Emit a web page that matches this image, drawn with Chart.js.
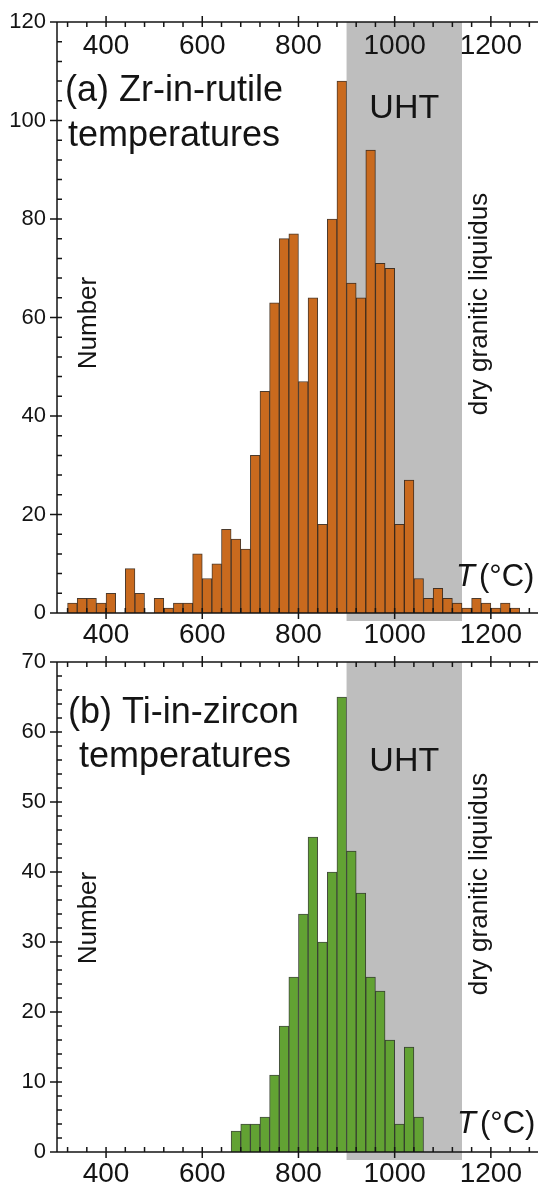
<!DOCTYPE html>
<html>
<head>
<meta charset="utf-8">
<script src="https://cdn.jsdelivr.net/npm/chart.js@4.4.1/dist/chart.umd.min.js"></script>
<style>
  html, body { margin: 0; padding: 0; background: #fff; }
  body { width: 538px; height: 1188px; position: relative; overflow: hidden; }
  canvas { position: absolute; left: 0; }
  #chartA { top: 0; }
  #chartB { top: 640px; }
</style>
</head>
<body>
<canvas id="chartA" width="538" height="660"></canvas>
<canvas id="chartB" width="538" height="548"></canvas>
<script>
// histogram bins are 20 °C wide, arrays hold the lower edge of each bin
const BIN_WIDTH = 20;

const rutileBins = [320, 340, 360, 380, 400, 420, 440, 460, 480, 500, 520, 540, 560, 580,
  600, 620, 640, 660, 680, 700, 720, 740, 760, 780, 800, 820, 840, 860, 880, 900, 920, 940,
  960, 980, 1000, 1020, 1040, 1060, 1080, 1100, 1120, 1140, 1160, 1180, 1200, 1220, 1240];
const rutileCounts = [2, 3, 3, 2, 4, 0, 9, 4, 0, 3, 1, 2, 2, 12,
  7, 10, 17, 15, 13, 32, 45, 63, 76, 77, 47, 64, 18, 80, 108, 67, 64, 94,
  71, 70, 18, 27, 7, 3, 5, 3, 2, 1, 3, 2, 1, 2, 1];

const zirconBins = [660, 680, 700, 720, 740, 760, 780, 800, 820, 840, 860, 880, 900, 920,
  940, 960, 980, 1000, 1020, 1040];
const zirconCounts = [3, 4, 4, 5, 11, 18, 25, 34, 45, 30, 40, 65, 43, 37,
  25, 23, 16, 4, 15, 5];

const xTickLabels = [400, 600, 800, 1000, 1200];
const rutileYTicks = [0, 20, 40, 60, 80, 100, 120];
const zirconYTicks = [0, 10, 20, 30, 40, 50, 60, 70];
const uhtRange = [900, 1140];   // UHT field up to the dry granitic liquidus

const FONT = '"Liberation Sans", Arial, sans-serif';
const INK = '#141414';

// frame, inner ticks, UHT band and the text labels of one panel
const panelPlugin = {
  id: 'panel',
  beforeDatasetsDraw(chart, args, o) {
    const { ctx, chartArea: a, scales: { x } } = chart;
    const x0 = x.getPixelForValue(o.band[0]);
    const x1 = x.getPixelForValue(o.band[1]);
    ctx.save();
    ctx.fillStyle = '#bebebe';
    ctx.fillRect(x0, a.top, x1 - x0, a.bottom - a.top + 8);
    ctx.restore();
  },
  afterDraw(chart, args, o) {
    const { ctx, chartArea: a, scales: { x, y } } = chart;
    ctx.save();
    ctx.strokeStyle = INK;
    ctx.lineWidth = 1.5;
    ctx.beginPath();
    ctx.moveTo(a.left, a.top); ctx.lineTo(a.left, a.bottom);
    ctx.moveTo(a.left - 5, a.top); ctx.lineTo(a.right, a.top);
    ctx.moveTo(a.left - (o.bottomOut ? 5 : 0), a.bottom); ctx.lineTo(a.right, a.bottom);

    for (let v = y.min; v <= y.max; v += o.yMinor) {
      const py = y.getPixelForValue(v);
      const major = v % o.yMajor === 0;
      ctx.moveTo(major ? a.left - 7 : a.left, py);
      ctx.lineTo(a.left + 5, py);
    }
    for (let v = Math.ceil(x.min / 40) * 40; v <= x.max; v += 40) {
      const px = x.getPixelForValue(v);
      const major = xTickLabels.includes(v);
      ctx.moveTo(px, a.bottom + (major ? 6 : 0));
      ctx.lineTo(px, a.bottom - 5);
      ctx.moveTo(px, a.top - (major ? 6 : 0));
      ctx.lineTo(px, a.top + 5);
    }
    ctx.stroke();

    ctx.fillStyle = INK;
    // tick labels repeated just inside the top border
    if (o.topLabels) {
      ctx.font = '28px ' + FONT;
      ctx.textAlign = 'center';
      ctx.textBaseline = 'alphabetic';
      xTickLabels.forEach(v => ctx.fillText(String(v), x.getPixelForValue(v), a.top + 32));
    }

    ctx.textAlign = 'left';
    ctx.font = '36px ' + FONT;
    ctx.fillText(o.title[0], o.titlePos[0][0], o.titlePos[0][1]);
    ctx.fillText(o.title[1], o.titlePos[1][0], o.titlePos[1][1]);

    ctx.textAlign = 'center';
    ctx.font = '34px ' + FONT;
    ctx.fillText('UHT', (x.getPixelForValue(o.band[0]) + x.getPixelForValue(o.band[1])) / 2, o.uhtY);

    ctx.textAlign = 'left';
    ctx.font = 'italic 31px ' + FONT;
    ctx.fillText('T', o.unitPos[0], o.unitPos[1]);
    ctx.font = '31px ' + FONT;
    ctx.fillText('(°C)', o.unitPos[0] + 23, o.unitPos[1]);

    const vertical = (str, px, py) => {
      ctx.save();
      ctx.translate(px, py);
      ctx.rotate(-Math.PI / 2);
      ctx.textAlign = 'center';
      ctx.fillText(str, 0, 0);
      ctx.restore();
    };
    ctx.font = '26px ' + FONT;
    vertical('Number', 96, o.numberY);
    vertical('dry granitic liquidus', 487, o.liquidusY);
    ctx.restore();
  }
};

function makePanel(id, cfg) {
  return new Chart(document.getElementById(id), {
    type: 'bar',
    data: {
      datasets: [{
        data: cfg.bins.map((b, i) => ({ x: b + BIN_WIDTH / 2, y: cfg.counts[i] })),
        backgroundColor: cfg.fill,
        borderColor: cfg.edge,
        borderWidth: 1,
        barPercentage: 1,
        categoryPercentage: 1
      }]
    },
    options: {
      responsive: false,
      animation: false,
      layout: { padding: { top: cfg.padTop, left: 0, right: 0, bottom: 0 } },
      scales: {
        x: {
          type: 'linear',
          min: 298,
          max: 1298,
          offset: false,
          afterBuildTicks: s => { s.ticks = xTickLabels.map(v => ({ value: v })); },
          afterFit: s => { s.height = cfg.xAxisHeight; },
          grid: { display: false, drawTicks: false },
          border: { display: false },
          ticks: {
            padding: 8, autoSkip: false, maxRotation: 0, color: INK,
            font: { family: FONT, size: 28, lineHeight: 1 },
            callback: v => String(v)
          }
        },
        y: {
          min: 0,
          max: cfg.yTicks[cfg.yTicks.length - 1],
          afterBuildTicks: s => { s.ticks = cfg.yTicks.map(v => ({ value: v })); },
          afterFit: s => { s.width = 57; },
          grid: { display: false, drawTicks: false },
          border: { display: false },
          ticks: {
            padding: 11, autoSkip: false, color: INK,
            font: { family: FONT, size: 22, lineHeight: 1 },
            callback: v => String(v)
          }
        }
      },
      plugins: {
        legend: { display: false },
        tooltip: { enabled: false },
        panel: cfg.panel
      }
    },
    plugins: [panelPlugin]
  });
}

makePanel('chartA', {
  bins: rutileBins, counts: rutileCounts, yTicks: rutileYTicks,
  fill: '#c96a1e', edge: 'rgba(45,25,8,0.85)',
  padTop: 15, xAxisHeight: 47,
  panel: {
    band: uhtRange, yMinor: 4, yMajor: 20, topLabels: true, bottomOut: false,
    title: ['(a) Zr-in-rutile', 'temperatures'], titlePos: [[65, 101], [68, 146]],
    uhtY: 118, unitPos: [456, 586], numberY: 323, liquidusY: 304
  }
});

makePanel('chartB', {
  bins: zirconBins, counts: zirconCounts, yTicks: zirconYTicks,
  fill: '#62a233', edge: 'rgba(35,45,28,0.85)',
  padTop: 18, xAxisHeight: 36,
  panel: {
    band: uhtRange, yMinor: 2, yMajor: 10, topLabels: false, bottomOut: true,
    title: ['(b) Ti-in-zircon', 'temperatures'], titlePos: [[68, 83], [79, 127]],
    uhtY: 131, unitPos: [457, 493], numberY: 278, liquidusY: 244
  }
});
</script>
</body>
</html>
